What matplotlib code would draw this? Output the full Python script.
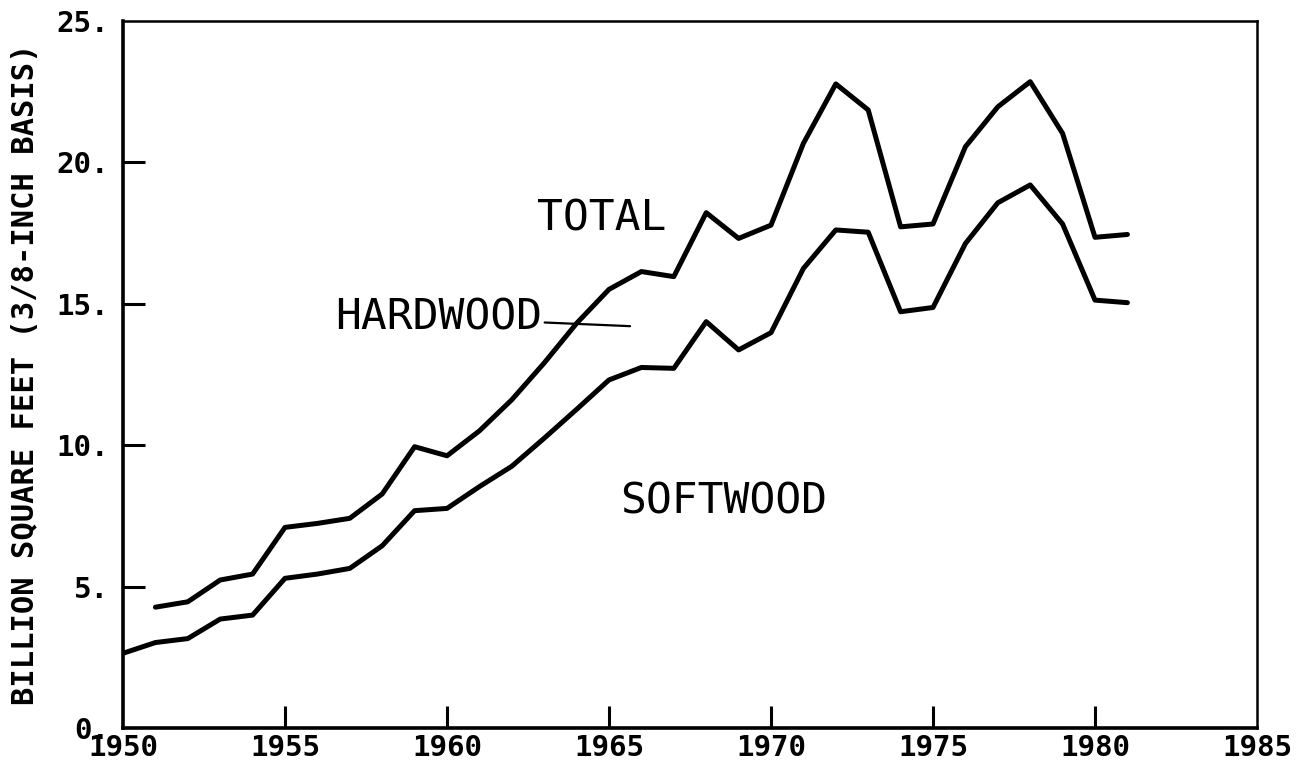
import matplotlib
matplotlib.use("Agg")
import matplotlib.pyplot as plt

# valores (mil millones de pies cuadrados)
anios_total = list(range(1951, 1982))
total = [4.27, 4.46, 5.23, 5.44, 7.09, 7.23, 7.41, 8.27, 9.94, 9.62,
         10.5, 11.6, 12.9, 14.3, 15.5, 16.13, 15.95, 18.21, 17.3, 17.77,
         20.66, 22.76, 21.84, 17.71, 17.81, 20.54, 21.95, 22.84, 21.01, 17.34,
         17.44]

anios_soft = list(range(1950, 1982))
softwood = [2.64, 3.02, 3.16, 3.85, 3.99, 5.29, 5.44, 5.64, 6.44, 7.68,
            7.76, 8.53, 9.25, 10.24, 11.26, 12.3, 12.74, 12.71, 14.36, 13.36,
            13.97, 16.24, 17.6, 17.52, 14.71, 14.86, 17.12, 18.56, 19.19, 17.81,
            15.12, 15.03]

xticks = [1950, 1955, 1960, 1965, 1970, 1975, 1980, 1985]
yticks = [0, 5, 10, 15, 20, 25]
ytick_labels = ['0.', '5.', '10.', '15.', '20.', '25.']
ylabel = 'BILLION SQUARE FEET (3/8-INCH BASIS)'

fuente = 'DejaVu Sans Mono'

fig = plt.figure(figsize=(13.03, 7.69), dpi=100)
ax = fig.add_axes([0.0944, 0.0533, 0.8703, 0.92])

estilo = dict(color='black', linewidth=3.6, solid_capstyle='round', solid_joinstyle='round')
ax.plot(anios_total, total, **estilo)
ax.plot(anios_soft, softwood, **estilo)

ax.set_xlim(1950, 1985)
ax.set_ylim(0, 25)

ax.set_xticks(xticks)
ax.set_xticklabels([str(a) for a in xticks], fontsize=21, fontweight='bold', family=fuente)
ax.set_yticks(yticks)
ax.set_yticklabels(ytick_labels, fontsize=21, fontweight='bold', family=fuente)
ax.tick_params(axis='both', direction='in', length=16, width=2.2, color='black')
ax.tick_params(axis='x', pad=4)
ax.tick_params(axis='y', pad=10)

# sin marcas en los extremos (coinciden con el marco)
for t in (ax.yaxis.get_major_ticks()[0], ax.yaxis.get_major_ticks()[-1],
          ax.xaxis.get_major_ticks()[0], ax.xaxis.get_major_ticks()[-1]):
    t.tick1line.set_visible(False)

for lado, ancho in [('left', 2.6), ('bottom', 2.6), ('top', 1.8), ('right', 1.8)]:
    ax.spines[lado].set_linewidth(ancho)

ax.set_ylabel(ylabel, fontsize=22, fontweight='bold', family=fuente, labelpad=12)

# etiquetas de las series
ax.text(1962.78, 18.02, 'TOTAL', fontsize=31, family=fuente, ha='left', va='center')
ax.text(1965.34, 8.02, 'SOFTWOOD', fontsize=31, family=fuente, ha='left', va='center')
ax.annotate('HARDWOOD', xy=(1965.65, 14.2), xytext=(1956.54, 14.49),
            fontsize=31, family=fuente, ha='left', va='center',
            arrowprops=dict(arrowstyle='-', color='black', linewidth=1.6,
                            shrinkA=0, shrinkB=0))

fig.savefig('out.png', dpi=100)
